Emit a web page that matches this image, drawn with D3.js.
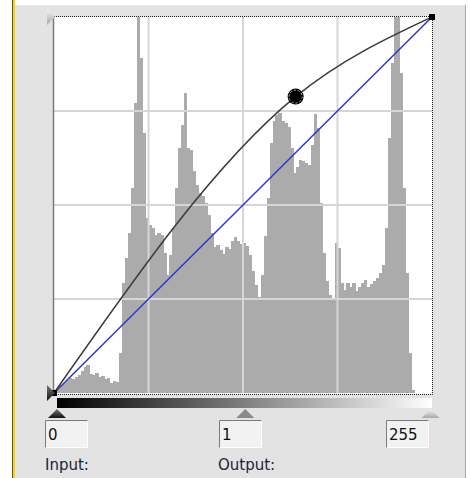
<!DOCTYPE html>
<html>
<head>
<meta charset="utf-8">
<script src="https://cdn.jsdelivr.net/npm/d3@7"></script>
<style>
  html, body { margin: 0; padding: 0; background: #fff; }
  svg { display: block; font-family: "DejaVu Sans", Verdana, sans-serif; }
</style>
</head>
<body>
<svg id="chart" width="470" height="478"></svg>
<script>
// histogram of the image, 128 bins (2 levels each), in counts
var histCounts = [
  3, 5, 8, 10, 13, 15, 14, 16, 18, 22, 26, 28, 19, 18, 20, 16,
  17, 14, 15, 10, 12, 11, 40, 110, 135, 160, 205, 290, 400, 335, 260, 175,
  168, 165, 158, 160, 158, 140, 118, 138, 165, 205, 245, 268, 300, 245, 243, 222,
  208, 200, 197, 190, 178, 160, 146, 148, 143, 139, 146, 144, 152, 156, 152, 149,
  150, 147, 138, 122, 108, 96, 118, 157, 195, 250, 272, 278, 280, 272, 270, 266,
  245, 220, 226, 233, 232, 230, 228, 248, 279, 265, 190, 140, 112, 98, 94, 150,
  145, 110, 103, 110, 106, 110, 102, 106, 110, 113, 106, 109, 112, 115, 120, 128,
  165, 255, 330, 400, 400, 320, 205, 120, 40, 3, 0, 0, 0, 0, 0, 0
];
var histMax = 376;

// tone curve control points (input -> output)
var curvePoints = [[0, 0], [163, 201], [255, 255]];
var identityLine = [[0, 0], [255, 255]];

// the three boxes under the gradient
var fieldValues = ["0", "1", "255"];
var fieldLabels = ["Input:", "Output:"];

var svg = d3.select("#chart");
var plot = {left: 54, top: 17, right: 432, bottom: 393};

// window panel
svg.append("rect").attr("x", 15).attr("y", 5).attr("width", 450).attr("height", 473).attr("fill", "#e3e3e3");
svg.append("line").attr("x1", 12.5).attr("x2", 12.5).attr("y1", 0).attr("y2", 478).attr("stroke", "#555").attr("stroke-width", 1);
svg.append("line").attr("x1", 14).attr("x2", 14).attr("y1", 0).attr("y2", 478).attr("stroke", "#ffd200").attr("stroke-width", 2);
svg.append("line").attr("x1", 465.5).attr("x2", 465.5).attr("y1", 5).attr("y2", 478).attr("stroke", "#a8a8a8").attr("stroke-width", 1);

// plot background
svg.append("rect")
  .attr("x", plot.left).attr("y", plot.top)
  .attr("width", plot.right - plot.left).attr("height", plot.bottom - plot.top + 1)
  .attr("fill", "#fff");

svg.append("clipPath").attr("id", "clip")
  .append("rect")
  .attr("x", plot.left).attr("y", plot.top)
  .attr("width", plot.right - plot.left).attr("height", plot.bottom - plot.top);

var g = svg.append("g").attr("clip-path", "url(#clip)");

// scales
var xBin = d3.scaleLinear().domain([0, histCounts.length]).range([plot.left, plot.right]);
var yHist = d3.scaleLinear().domain([0, histMax]).range([plot.bottom, plot.top]).clamp(true);
var x = d3.scaleLinear().domain([0, 255]).range([plot.left, plot.right]);
var y = d3.scaleLinear().domain([0, 255]).range([plot.bottom, plot.top]);

// histogram bars
g.selectAll("rect.bin")
  .data(histCounts)
  .enter().append("rect")
  .attr("class", "bin")
  .attr("x", function(d, i) { return xBin(i); })
  .attr("width", function(d, i) { return xBin(i + 1) - xBin(i) + 0.3; })
  .attr("y", function(d) { return yHist(d); })
  .attr("height", function(d) { return plot.bottom - yHist(d); })
  .attr("fill", "#ababab")
  .attr("shape-rendering", "crispEdges");

// grid, 4x4
var gridTicks = [63.75, 127.5, 191.25];
g.selectAll("line.gx")
  .data(gridTicks)
  .enter().append("line")
  .attr("x1", function(d) { return x(d); }).attr("x2", function(d) { return x(d); })
  .attr("y1", plot.top).attr("y2", plot.bottom)
  .attr("stroke", "#d6d6d6").attr("stroke-width", 2);
g.selectAll("line.gy")
  .data(gridTicks)
  .enter().append("line")
  .attr("y1", function(d) { return y(d); }).attr("y2", function(d) { return y(d); })
  .attr("x1", plot.left).attr("x2", plot.right)
  .attr("stroke", "#d6d6d6").attr("stroke-width", 2);

// identity line
var line = d3.line()
  .x(function(d) { return x(d[0]); })
  .y(function(d) { return y(d[1]); });

g.append("path")
  .datum(identityLine)
  .attr("fill", "none")
  .attr("stroke", "#3535c8")
  .attr("stroke-width", 1.5)
  .attr("d", line);

// tone curve
g.append("path")
  .datum(curvePoints)
  .attr("fill", "none")
  .attr("stroke", "#3a3a3a")
  .attr("stroke-width", 1.5)
  .attr("d", line.curve(d3.curveMonotoneX));

// border: solid grey left, dotted on the other sides
svg.append("path")
  .attr("d", "M" + plot.left + "," + (plot.top - 0.5) + "H" + (plot.right + 0.5) + "V" + (plot.bottom + 1.5) + "H" + plot.left)
  .attr("fill", "none").attr("stroke", "#222").attr("stroke-width", 1).attr("stroke-dasharray", "1,1");
svg.append("line")
  .attr("x1", plot.left - 0.5).attr("x2", plot.left - 0.5).attr("y1", plot.top).attr("y2", plot.bottom + 2)
  .attr("stroke", "#7a7a7a").attr("stroke-width", 1.5);

// control points
svg.selectAll("rect.end")
  .data([curvePoints[0], curvePoints[2]])
  .enter().append("rect")
  .attr("class", "end")
  .attr("x", function(d) { return x(d[0]) - 3; })
  .attr("y", function(d) { return y(d[1]) - 3; })
  .attr("width", 6).attr("height", 6)
  .attr("fill", "#000");

var mid = curvePoints[1];
svg.append("circle").attr("cx", x(mid[0])).attr("cy", y(mid[1])).attr("r", 8).attr("fill", "#000");
svg.append("circle").attr("cx", x(mid[0])).attr("cy", y(mid[1])).attr("r", 6.5)
  .attr("fill", "none").attr("stroke", "#bbb").attr("stroke-width", 1).attr("stroke-dasharray", "2,2");
svg.append("circle").attr("cx", x(mid[0])).attr("cy", y(mid[1])).attr("r", 5.5).attr("fill", "#000");

// side markers on the left edge
var defs = svg.append("defs");
var tg = defs.append("linearGradient").attr("id", "triLight").attr("x1", 0).attr("x2", 0).attr("y1", 0).attr("y2", 1);
tg.append("stop").attr("offset", "0%").attr("stop-color", "#f4f4f4");
tg.append("stop").attr("offset", "100%").attr("stop-color", "#a8a8a8");
var td = defs.append("linearGradient").attr("id", "triDark").attr("x1", 0).attr("x2", 0).attr("y1", 0).attr("y2", 1);
td.append("stop").attr("offset", "0%").attr("stop-color", "#777");
td.append("stop").attr("offset", "100%").attr("stop-color", "#111");

svg.append("path").attr("d", "M47,9L55,17L47,25Z").attr("fill", "url(#triLight)");
svg.append("path").attr("d", "M47,385L55,393L47,401Z").attr("fill", "url(#triDark)");

// gradient bar
var bg = defs.append("linearGradient").attr("id", "bar");
bg.append("stop").attr("offset", "0%").attr("stop-color", "#000");
bg.append("stop").attr("offset", "100%").attr("stop-color", "#fff");
svg.append("rect").attr("x", x(0) + 3).attr("y", 398).attr("width", x(255) - x(0) - 3).attr("height", 10)
  .attr("fill", "url(#bar)");

// sliders under the bar: input black, gamma, white
var sliderPos = [0, 127, 252];
var sliderFill = ["url(#triDark)", "#8a8a8a", "url(#triLight)"];
svg.selectAll("path.slider")
  .data(sliderPos)
  .enter().append("path")
  .attr("class", "slider")
  .attr("d", function(d) {
    var cx = x(d) + 3;
    return "M" + (cx - 9) + ",418L" + cx + ",409L" + (cx + 9) + ",418Z";
  })
  .attr("fill", function(d, i) { return sliderFill[i]; });

// value fields
var fieldX = [45, 219, 386];
var fields = svg.selectAll("g.field")
  .data(fieldValues)
  .enter().append("g")
  .attr("class", "field")
  .attr("transform", function(d, i) { return "translate(" + fieldX[i] + ",420)"; });
fields.append("rect").attr("x", 0.5).attr("y", 0.5).attr("width", 42).attr("height", 27)
  .attr("fill", "#f2f2f2").attr("stroke", "#fff");
fields.append("path").attr("d", "M0.5,27.5V0.5H42.5").attr("fill", "none").attr("stroke", "#7a7a7a");
fields.append("text").attr("x", 3).attr("y", 20).attr("font-size", 15).attr("fill", "#111")
  .text(function(d) { return d; });

svg.selectAll("text.label")
  .data(fieldLabels)
  .enter().append("text")
  .attr("class", "label")
  .attr("x", function(d, i) { return i === 0 ? 45 : 218; })
  .attr("y", 470)
  .attr("font-size", 15)
  .attr("fill", "#22223a")
  .text(function(d) { return d; });
</script>
</body>
</html>
